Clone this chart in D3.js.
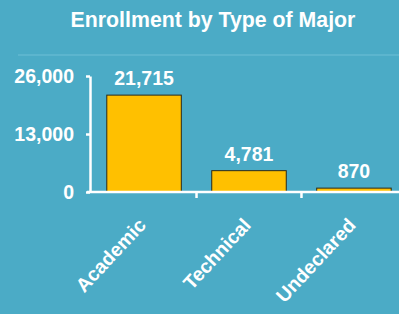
<!DOCTYPE html>
<html>
<head>
<meta charset="UTF-8">
<script src="https://cdn.jsdelivr.net/npm/d3@7"></script>
<style>
  body { margin: 0; background: #4babc6; }
  svg { display: block; }
  text { font-family: "Liberation Sans", Arial, sans-serif; font-weight: bold; fill: #fff; }
  .bar { fill: #ffc000; stroke: #2a2a1a; stroke-width: 1; }
</style>
</head>
<body>
<div id="chart"></div>
<script>
// data
const categories = ["Academic", "Technical", "Undeclared"];
const enrollment = [21715, 4781, 870];
const yTicks = [0, 13000, 26000];
const title = "Enrollment by Type of Major";

const W = 399, H = 314;
const x0 = 90, x1 = 408, yTop = 76, yBot = 192;

const svg = d3.select("#chart").append("svg")
    .attr("width", W)
    .attr("height", H);

svg.append("rect").attr("width", W).attr("height", H).attr("fill", "#4babc6");

// title
svg.append("text")
    .attr("x", 213).attr("y", 27)
    .attr("text-anchor", "middle")
    .style("font-size", "21.3px")
    .text(title);

// faint separator line under title
svg.append("line")
    .attr("x1", 18).attr("x2", W)
    .attr("y1", 55).attr("y2", 55)
    .attr("stroke", "#62b9d0").attr("stroke-width", 1.5);

const x = d3.scaleBand()
    .domain(categories)
    .range([x0, x1])
    .paddingInner(0.29)
    .paddingOuter(0.16);

const y = d3.scaleLinear()
    .domain([0, 26000])
    .range([yBot, yTop]);

// bars
svg.selectAll(".bar")
    .data(categories)
  .enter().append("rect")
    .attr("class", "bar")
    .attr("x", d => x(d))
    .attr("width", x.bandwidth())
    .attr("y", (d, i) => y(enrollment[i]))
    .attr("height", (d, i) => yBot - y(enrollment[i]));

// value labels
svg.selectAll(".val")
    .data(categories)
  .enter().append("text")
    .attr("class", "val")
    .attr("x", d => x(d) + x.bandwidth() / 2)
    .attr("y", (d, i) => y(enrollment[i]) - 10)
    .attr("text-anchor", "middle")
    .style("font-size", "19.5px")
    .text((d, i) => d3.format(",")(enrollment[i]));

// y axis
const yAxis = svg.append("g")
    .attr("transform", "translate(" + x0 + ",0)")
    .call(d3.axisLeft(y).tickValues(yTicks).tickFormat(d3.format(",")).tickSize(4).tickSizeOuter(0).tickPadding(12));
yAxis.select(".domain").attr("stroke", "#fff").attr("stroke-width", 2.5);
yAxis.selectAll(".tick line").attr("stroke", "#fff").attr("stroke-width", 2.5);
yAxis.selectAll(".tick text")
    .attr("fill", "#fff")
    .style("font-size", "19.5px")
    .style("font-family", "'Liberation Sans', Arial, sans-serif")
    .style("font-weight", "bold");

// x axis
const xAxis = svg.append("g")
    .attr("transform", "translate(0," + yBot + ")");
xAxis.append("line")
    .attr("x1", x0 - 3).attr("x2", W)
    .attr("y1", 0).attr("y2", 0)
    .attr("stroke", "#fff").attr("stroke-width", 2.5);
xAxis.selectAll(".sep")
    .data(categories.slice(1))
  .enter().append("line")
    .attr("class", "sep")
    .attr("x1", d => x(d) - x.step() * x.paddingInner() / 2)
    .attr("x2", d => x(d) - x.step() * x.paddingInner() / 2)
    .attr("y1", 0).attr("y2", 6)
    .attr("stroke", "#fff").attr("stroke-width", 2.5);

// category labels
svg.selectAll(".cat")
    .data(categories)
  .enter().append("text")
    .attr("class", "cat")
    .attr("text-anchor", "end")
    .attr("transform", d => "translate(" + (x(d) + x.bandwidth() / 2 + 3) + "," + (yBot + 34) + ") rotate(-47)")
    .style("font-size", "19.5px")
    .text(d => d);
</script>
</body>
</html>
